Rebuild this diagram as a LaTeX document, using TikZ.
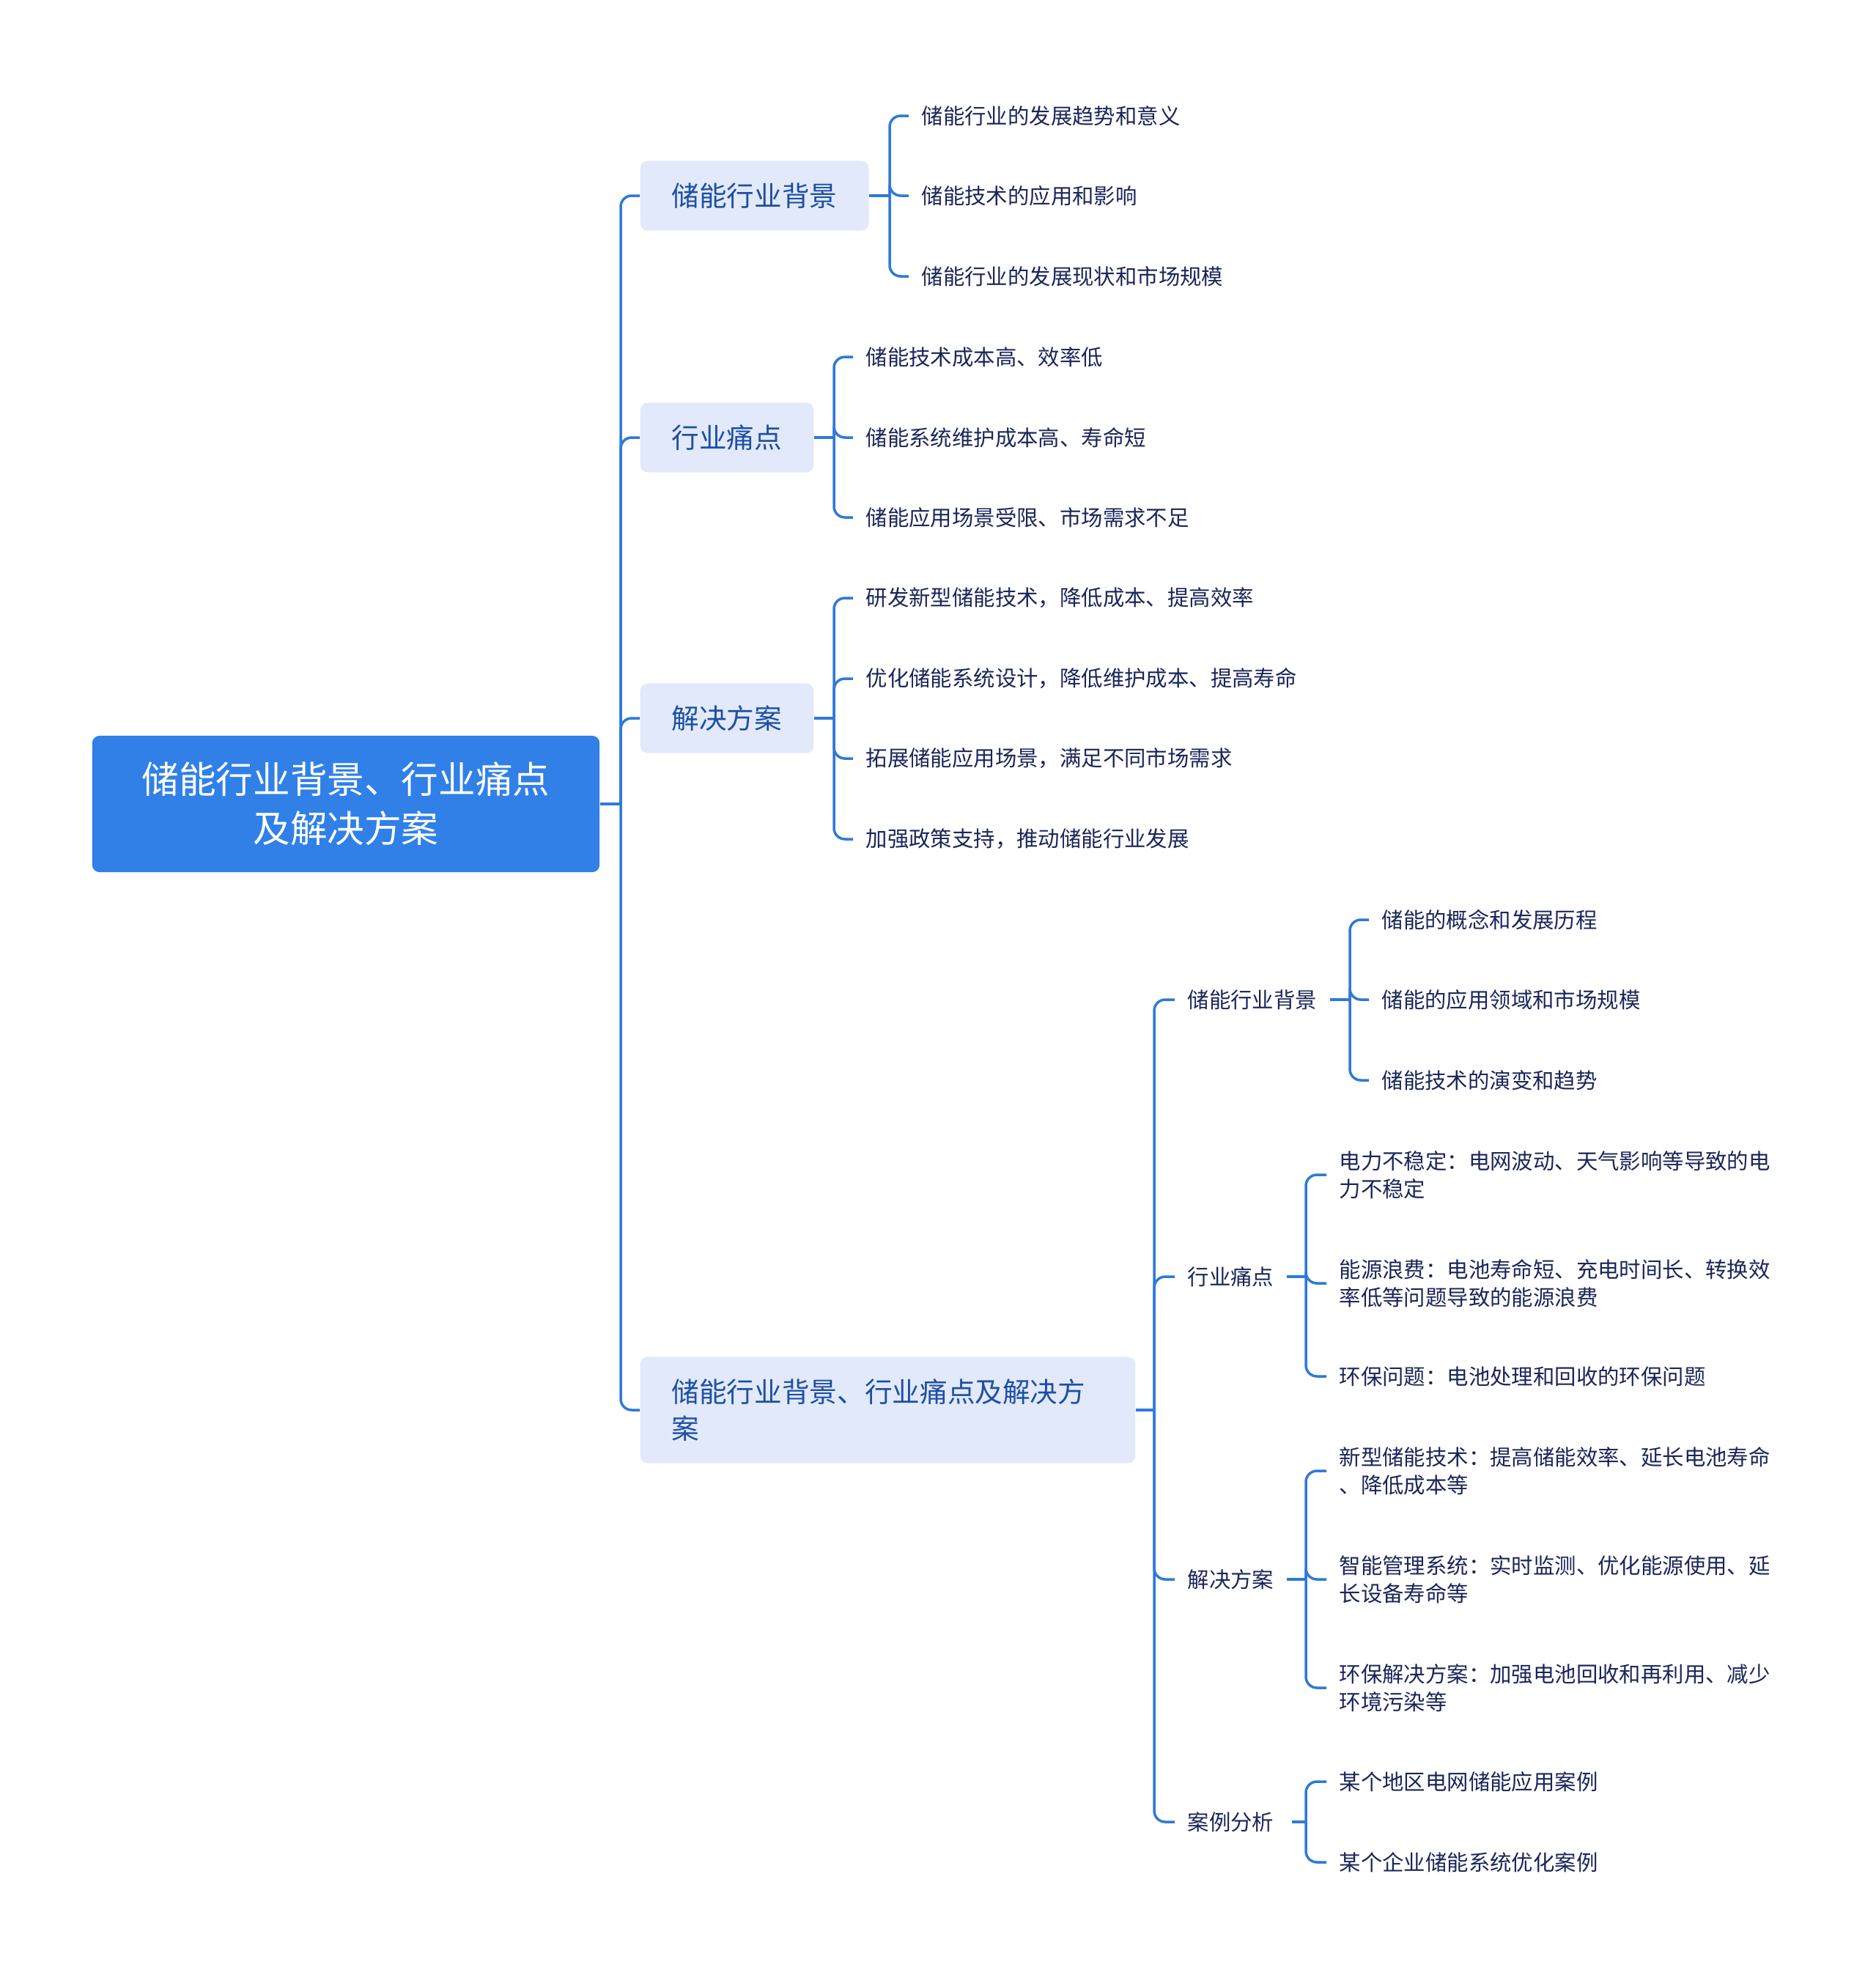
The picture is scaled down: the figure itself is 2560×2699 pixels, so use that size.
\documentclass[tikz,border=0pt]{standalone}
\usepackage{fontspec}
\setmainfont{Noto Sans CJK SC}
\definecolor{raiz}{HTML}{3080E8}
\definecolor{caja}{HTML}{E2E9FB}
\definecolor{textocaja}{HTML}{1D4FA3}
\definecolor{texto}{HTML}{1B2559}
\definecolor{linea}{HTML}{2F7AD8}

\begin{document}
\begin{tikzpicture}[x=0.01cm,y=-0.01cm,
    raiznodo/.style={fill=raiz, text=white, rounded corners=0.1cm, minimum width=6.92cm, minimum height=1.86cm, align=center, font=\fontsize{14.4}{19.1}\selectfont},
    ramanodo/.style={fill=caja, text=textocaja, rounded corners=0.1cm, minimum height=0.95cm, inner xsep=0.43cm, anchor=west, font=\fontsize{10.7}{14.2}\selectfont},
    hoja/.style={text=texto, inner xsep=0.17cm, inner ysep=0.05cm, anchor=west, align=left, font=\fontsize{8.36}{10.8}\selectfont},
    enlace/.style={draw=linea, line width=0.035cm, rounded corners=0.15cm}]
	\useasboundingbox (0,0) rectangle (2560,2699);

	% Nodo raiz
	\node[raiznodo] (raiz) at (472,1097) {储能行业背景、行业痛点\\及解决方案};

	% Ramas principales
	\node[ramanodo] (fondo) at (873,267) {储能行业背景};
	\node[ramanodo] (dolor) at (873,597) {行业痛点};
	\node[ramanodo] (solucion) at (873,980) {解决方案};
	\node[ramanodo, minimum height=1.45cm, text width=5.89cm, align=left] (todo) at (873,1924) {储能行业背景、行业痛点及解决方\\案};

	% Tronco
	\coordinate (raizj) at (847,1097);
	\draw[enlace] (raiz.east) -- (raizj);
	\foreach \n in {fondo,dolor,solucion,todo} {
	    \draw[enlace] (raizj) |- (\n.west);
	}

	% Hojas de la primera rama
	\coordinate (fondoj) at (1214,267);
	\draw[enlace] (fondo.east) -- (fondoj);
	\foreach \i/\y/\t in {
	    1/158/储能行业的发展趋势和意义,
	    2/267/储能技术的应用和影响,
	    3/377/储能行业的发展现状和市场规模
	} {
	    \node[hoja] (fondo\i) at (1240,\y) {\t};
	    \draw[enlace] (fondoj) |- (fondo\i.west);
	}

	% Hojas de la segunda rama
	\coordinate (dolorj) at (1138,597);
	\draw[enlace] (dolor.east) -- (dolorj);
	\foreach \i/\y/\t in {
	    1/487/储能技术成本高、效率低,
	    2/597/储能系统维护成本高、寿命短,
	    3/706/储能应用场景受限、市场需求不足
	} {
	    \node[hoja] (dolor\i) at (1164,\y) {\t};
	    \draw[enlace] (dolorj) |- (dolor\i.west);
	}

	% Hojas de la tercera rama
	\coordinate (solucionj) at (1138,980);
	\draw[enlace] (solucion.east) -- (solucionj);
	\foreach \i/\y/\t in {
	    1/816/研发新型储能技术，降低成本、提高效率,
	    2/926/优化储能系统设计，降低维护成本、提高寿命,
	    3/1035/拓展储能应用场景，满足不同市场需求,
	    4/1145/加强政策支持，推动储能行业发展
	} {
	    \node[hoja] (solucion\i) at (1164,\y) {\t};
	    \draw[enlace] (solucionj) |- (solucion\i.west);
	}

	% Subramas de la cuarta rama
	\coordinate (todoj) at (1575,1924);
	\draw[enlace] (todo.east) -- (todoj);
	\foreach \i/\y/\jx/\t in {
	    1/1364/1842/储能行业背景,
	    2/1742/1782/行业痛点,
	    3/2155/1782/解决方案,
	    4/2486/1782/案例分析
	} {
	    \node[hoja] (todo\i) at (1603,\y) {\t};
	    \draw[enlace] (todoj) |- (todo\i.west);
	    \coordinate (todo\i j) at (\jx,\y);
	    \draw[enlace] (todo\i.east) -- (todo\i j);
	}

	% Hojas de las subramas
	\foreach \r/\hx/\i/\y/\t in {
	    1/1868/1/1255/储能的概念和发展历程,
	    1/1868/2/1364/储能的应用领域和市场规模,
	    1/1868/3/1474/储能技术的演变和趋势,
	    2/1810/1/1603/{电力不稳定：电网波动、天气影响等导致的电\\力不稳定},
	    2/1810/2/1751/{能源浪费：电池寿命短、充电时间长、转换效\\率低等问题导致的能源浪费},
	    2/1810/3/1878/环保问题：电池处理和回收的环保问题,
	    3/1810/1/2007/{新型储能技术：提高储能效率、延长电池寿命\\、降低成本等},
	    3/1810/2/2155/{智能管理系统：实时监测、优化能源使用、延\\长设备寿命等},
	    3/1810/3/2303/{环保解决方案：加强电池回收和再利用、减少\\环境污染等},
	    4/1810/1/2431/某个地区电网储能应用案例,
	    4/1810/2/2541/某个企业储能系统优化案例
	} {
	    \node[hoja] (todo\r-\i) at (\hx,\y) {\t};
	    \draw[enlace] (todo\r j) |- (todo\r-\i.west);
	}
    \end{tikzpicture}
\end{document}
